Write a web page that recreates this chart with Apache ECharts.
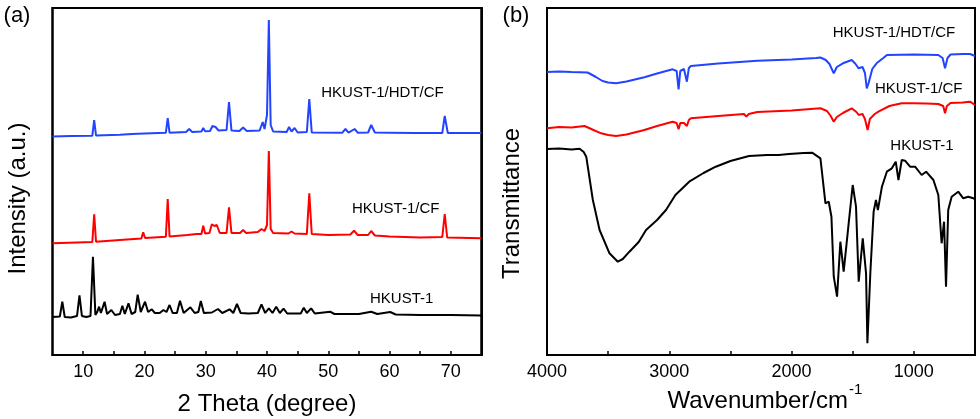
<!DOCTYPE html>
<html>
<head>
<meta charset="utf-8">
<script src="https://cdn.jsdelivr.net/npm/echarts@6/dist/echarts.min.js"></script>
<style>html,body{margin:0;padding:0;background:#fff;}#c{width:980px;height:419px;}</style>
</head>
<body>
<div id="c"></div>
<script>
// ---------- DATA ----------
// XRD: [2theta (deg), intensity (a.u., offset traces)]
const xrdHDT = [[5,218.5],[8,219],[11.5,219.3],[11.8,235],[12.1,219.5],[16,220.3],[18,221],[20,221.5],[23.5,222.3],[23.8,237],[24.1,222.3],[26.8,223],[27.3,226],[27.8,223],[29.3,223.5],[29.6,227],[29.9,223.7],[30.7,224],[31.1,229],[31.6,228],[32.1,224.5],[33.4,225],[33.8,253],[34.2,224.5],[35.5,224],[36.1,227.5],[36.7,224],[38.8,224.5],[39.3,233],[39.6,226],[40.0,240],[40.3,335],[40.6,230],[41.0,223.5],[43.2,223],[43.6,228],[44.0,223.5],[44.5,227],[45,222.5],[46.5,223],[46.9,256],[47.3,222.5],[52.3,222.3],[52.8,226],[53.3,222.3],[54.3,226],[54.8,222.3],[56.5,222.5],[57.0,230],[57.6,222.5],[60,222.3],[64,222],[68.6,222],[69.0,239],[69.5,222],[75,222]];
const xrdCF = [[5,111.7],[9,112.5],[11.5,113],[11.8,140.7],[12.1,113.3],[16,115],[19.5,116.5],[19.8,122.7],[20.1,117],[23.5,118.3],[23.8,156],[24.1,118.5],[27,120],[28.5,121],[29.3,121],[29.6,129.3],[29.9,121.5],[30.6,122],[31.0,130.7],[31.4,129],[31.8,130],[32.3,122],[33.4,122],[33.8,147.7],[34.2,122],[35.6,122],[36.1,125],[36.6,122],[38.5,123],[39.1,126],[39.6,124],[40.0,130],[40.3,204],[40.6,126],[41,122],[43.5,121.5],[44,123.5],[44.5,121.5],[46.5,121],[46.9,161.7],[47.3,121],[50,120],[53.6,120.5],[54.2,124.3],[54.8,120],[56.5,120],[57.0,124],[57.6,119.5],[60,118.5],[65,117.5],[68.6,118],[69.0,141],[69.4,117.5],[75,116.7]];
const xrdHKUST = [[5,38],[6.2,38.5],[6.6,53.3],[7.0,38],[8,37.5],[9.0,39],[9.4,59.7],[9.8,39],[10.5,38],[11.2,39],[11.6,98.3],[12.0,40],[12.3,43],[12.6,48.3],[12.9,42],[13.2,44],[13.5,53.3],[13.9,41],[14.6,45],[15.2,40],[16.0,41],[16.4,49.3],[16.8,41],[17.4,51.7],[17.9,41],[18.5,43],[18.9,60.3],[19.4,43],[20.1,53.3],[20.6,43],[21.2,45.7],[21.7,42],[22.5,42],[23.1,45],[23.6,43],[24.1,50],[24.6,42],[25.3,42],[25.8,54.3],[26.4,42],[27.5,47.7],[28.2,42],[28.8,43],[29.2,54],[29.7,42],[31,42.5],[32,46],[32.7,42],[33.9,45.7],[34.5,42],[35.1,51],[35.7,42],[37,41.5],[38.5,42],[39.1,50.7],[39.7,42],[40.3,46.7],[40.9,42],[41.5,48.3],[42.1,42],[42.7,46.3],[43.3,41.5],[45.5,41.5],[46.0,47.3],[46.5,42],[47.2,46.7],[47.8,41.5],[50.3,43.3],[51,41],[55,41],[57,43.3],[58,41],[60.1,43],[61,40.5],[65,40],[70,40],[75,39.5]];

// FTIR: [wavenumber (cm-1), transmittance (a.u., offset traces)]
const irHDT = [[4000,283],[3900,283.5],[3800,283],[3668,282.5],[3600,278],[3546,274],[3500,272.5],[3435,271.7],[3350,273.5],[3204,277.7],[3100,281.5],[2973,285.7],[2940,284],[2924,265.7],[2910,284],[2880,286],[2856,273.3],[2840,287],[2823,289],[2600,291.5],[2280,294.3],[2000,295.5],[1800,297],[1764,297.5],[1720,295],[1690,291],[1655,281.7],[1630,288],[1580,291.7],[1508,295],[1480,291.5],[1451,286.7],[1420,288],[1400,282],[1385,266.7],[1370,272],[1340,286],[1305,291.7],[1250,297],[1220,300],[1000,300.5],[800,300],[765,297],[745,286.7],[725,297],[700,300.5],[600,301],[540,301],[500,299]];
const irCF = [[4000,226.7],[3900,228],[3800,227.5],[3693,229],[3620,225],[3557,221.7],[3500,220],[3435,219],[3350,220.5],[3204,225],[3100,229],[2973,233.3],[2940,232],[2924,225.7],[2910,232],[2880,232],[2856,229],[2840,235],[2823,236.7],[2600,239],[2389,241],[2370,238.3],[2350,241],[2280,243],[2000,244.5],[1764,246.7],[1710,244],[1680,239],[1655,233.3],[1630,238],[1580,242],[1508,246.7],[1470,243],[1451,240],[1420,241],[1400,236],[1378,225],[1360,236],[1320,241],[1290,243.3],[1200,249],[1100,251.7],[1000,251.7],[900,251.5],[800,251],[760,249],[745,241.7],[730,249],[700,252],[600,252.5],[540,253.3],[500,250]];
const irHKUST = [[4000,206],[3900,206.5],[3800,205.5],[3733,206.3],[3700,203],[3679,198.3],[3625,155],[3570,125],[3489,101.7],[3421,93.3],[3380,96],[3326,103.3],[3250,113],[3190,125],[3100,135],[3027,145],[2950,160],[2837,173.3],[2720,182],[2620,188.3],[2500,194],[2348,199],[2200,200],[2105,200],[2022,201],[1900,202],[1832,202.3],[1764,196.7],[1723,151.7],[1696,153.3],[1674,138.3],[1655,78.3],[1628,58.3],[1601,113.3],[1574,83.3],[1533,131.7],[1500,170],[1473,148.3],[1451,73.3],[1418,116.7],[1391,81.7],[1380,11.7],[1356,81.7],[1329,143.3],[1310,155],[1294,145],[1261,168.3],[1221,183.3],[1180,186.7],[1148,193.3],[1126,175],[1099,195],[1072,194.3],[1031,188.3],[990,188.3],[936,180],[900,183.3],[840,175],[800,160],[773,111.7],[753,133.3],[737,68.3],[719,145],[691,158.3],[637,163.3],[596,156.7],[555,158.3],[514,156.7],[500,156]];

const seriesNames = ['HKUST-1/HDT/CF', 'HKUST-1/CF', 'HKUST-1'];
const xrdTicks = [10, 20, 30, 40, 50, 60, 70];
const xrdTickMarks = [10, 15, 20, 25, 30, 35, 40, 45, 50, 55, 60, 65, 70];
const irTicks = [1000, 2000, 3000, 4000];
const irTickMarks = [1000, 1500, 2000, 2500, 3000, 3500];
const xrdRange = [5, 75];
const irRange = [500, 4000];
const yRange = [0, 347];

// ---------- CHART ----------
const FONT = '"Liberation Sans", Arial, sans-serif';
const colors = ['#2244ff', '#ff0000', '#000000'];
const chart = echarts.init(document.getElementById('c'), null, {renderer: 'canvas'});
const GRIDS = [
  {left: 52.5, top: 8, width: 429, height: 347},
  {left: 547, top: 8, width: 428, height: 347}
];

function xAx(grid, range, labels, marks, inverse) {
  return {
    type: 'value', gridIndex: grid, min: range[0], max: range[1], inverse: !!inverse, position: 'bottom',
    axisLine: {show: true, lineStyle: {color: '#000', width: 2}},
    axisTick: {show: true, inside: true, length: 4, customValues: marks, lineStyle: {color: '#000', width: 1.5}},
    axisLabel: {show: true, customValues: labels, margin: 8, color: '#000', fontSize: 18, fontFamily: FONT,
                formatter: function (v) { return String(v); }},
    splitLine: {show: false}
  };
}
function yAx(grid) {
  return {
    type: 'value', gridIndex: grid, min: yRange[0], max: yRange[1], position: 'right',
    axisLine: {show: true, lineStyle: {color: '#000', width: 2}},
    axisTick: {show: false}, axisLabel: {show: false}, splitLine: {show: false}
  };
}
function line(name, data, color, xi, yi) {
  return {
    type: 'line', name: name, data: data, xAxisIndex: xi, yAxisIndex: yi,
    showSymbol: false, symbol: 'none', smooth: false,
    lineStyle: {color: color, width: 2}
  };
}
function txt(x, y, text, size, opts) {
  return Object.assign({
    type: 'text', x: x, y: y, silent: true,
    style: {text: text, fontSize: size, fontFamily: FONT, fill: '#000', align: 'center', verticalAlign: 'middle'}
  }, opts || {});
}
function frame(g) {
  return {type: 'rect', silent: true,
          shape: {x: g.left, y: g.top, width: g.width, height: g.height},
          style: {fill: 'rgba(255,255,255,0)', stroke: '#000', lineWidth: 2}};
}

const option = {
  animation: false,
  grid: GRIDS.map(function (g) {
    return Object.assign({show: true, borderColor: '#000', borderWidth: 2}, g);
  }),
  xAxis: [
    xAx(0, xrdRange, xrdTicks, xrdTickMarks, false),
    xAx(1, irRange, irTicks, irTickMarks, true)
  ],
  yAxis: [yAx(0), yAx(1)],
  series: [
    line(seriesNames[0], xrdHDT, colors[0], 0, 0),
    line(seriesNames[1], xrdCF, colors[1], 0, 0),
    line(seriesNames[2], xrdHKUST, colors[2], 0, 0),
    line(seriesNames[0], irHDT, colors[0], 1, 1),
    line(seriesNames[1], irCF, colors[1], 1, 1),
    line(seriesNames[2], irHKUST, colors[2], 1, 1)
  ],
  graphic: [
    frame(GRIDS[0]),
    frame(GRIDS[1]),
    txt(17, 16, '(a)', 22),
    txt(516, 16, '(b)', 22),
    txt(18, 198.5, 'Intensity (a.u.)', 24, {rotation: Math.PI / 2}),
    txt(512.5, 203.5, 'Transmittance', 24, {rotation: Math.PI / 2}),
    txt(267, 404, '2 Theta (degree)', 24),
    {type: 'text', x: 848, y: 401, silent: true, style: {text: 'Wavenumber/cm', fontSize: 24, fontFamily: FONT, fill: '#000', align: 'right', verticalAlign: 'middle'}},
    {type: 'text', x: 849, y: 390, silent: true, style: {text: '-1', fontSize: 15, fontFamily: FONT, fill: '#000', align: 'left', verticalAlign: 'middle'}},
    txt(382.5, 92.5, seriesNames[0], 15),
    txt(395.7, 209, seriesNames[1], 15),
    txt(401.7, 298.5, seriesNames[2], 15),
    txt(894, 32.5, seriesNames[0], 15),
    txt(918.7, 89, seriesNames[1], 15),
    txt(922, 146, seriesNames[2], 15)
  ]
};
chart.setOption(option);
</script>
</body>
</html>
